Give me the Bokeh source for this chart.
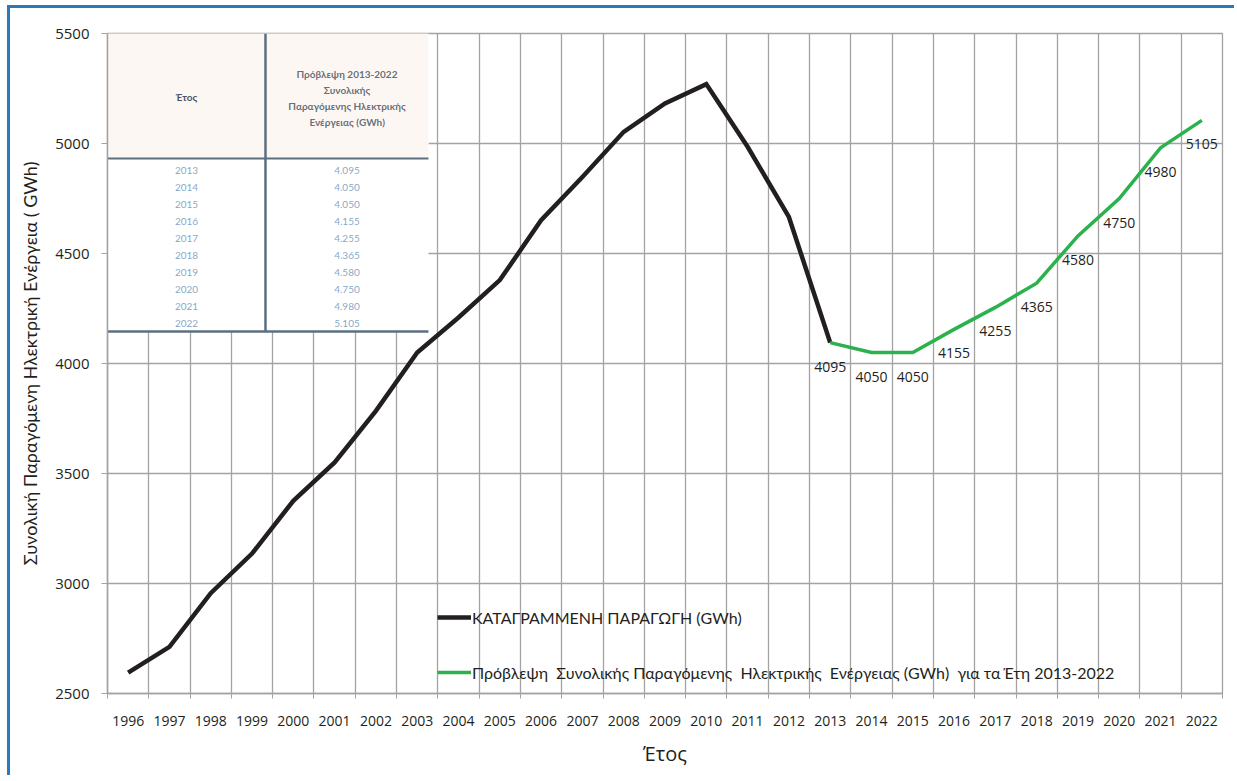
from bokeh.plotting import figure
from bokeh.models import FixedTicker, Legend, LegendItem, ColumnDataSource
from bokeh.core.properties import value
from bokeh.embed import file_html
from bokeh.resources import INLINE

# ---- data ----
years_all = list(range(1996, 2023))
recorded_years = list(range(1996, 2014))
recorded_gwh = [2595, 2712, 2956, 3136, 3376, 3550, 3785, 4050, 4209, 4379,
                4651, 4848, 5053, 5182, 5270, 4985, 4666, 4095]
forecast_years = list(range(2013, 2023))
forecast_gwh = [4095, 4050, 4050, 4155, 4255, 4365, 4580, 4750, 4980, 5105]
y_ticks = [2500, 3000, 3500, 4000, 4500, 5000, 5500]

legend_recorded = "ΚΑΤΑΓΡΑΜΜΕΝΗ ΠΑΡΑΓΩΓΗ (GWh)"
legend_forecast = "Πρόβλεψη  Συνολικής Παραγόμενης  Ηλεκτρικής  Ενέργειας (GWh)  για τα Έτη 2013-2022"
y_title = "Συνολική Παραγόμενη Ηλεκτρική Ενέργεια ( GWh)"
x_title = "Έτος"

TXT = "#231f20"
GRID = "#a3a3a3"
FONT = "Open Sans"
NARROW = "Lato"

p = figure(width=1227, height=770, output_backend="svg", toolbar_location=None,
           x_range=(years_all[0] - 0.5, years_all[-1] + 0.5),
           y_range=(y_ticks[0], y_ticks[-1]),
           min_border_left=97, min_border_right=15, min_border_top=25, min_border_bottom=85)
p.styles = {"border-left": "3px solid #2a79bd", "border-top": "3px solid #2a79bd",
            "margin-left": "7px", "margin-top": "5px"}
p.outline_line_color = GRID
p.outline_line_width = 1.3

# axes
p.xaxis.ticker = FixedTicker(ticks=years_all, minor_ticks=[y - 0.5 for y in years_all] + [years_all[-1] + 0.5])
p.xaxis.major_label_overrides = {y: str(y) for y in years_all}
p.xaxis.major_tick_out = 0
p.xaxis.major_tick_in = 0
p.xaxis.minor_tick_out = 5
p.xaxis.minor_tick_in = 0
p.xaxis.minor_tick_line_color = GRID
p.xaxis.axis_line_color = GRID
p.xaxis.axis_line_width = 1.5
p.xaxis.major_label_text_font = FONT
p.xaxis.major_label_text_font_size = "14px"
p.xaxis.major_label_text_color = TXT
p.xaxis.major_label_standoff = 17
p.xaxis.axis_label = x_title
p.xaxis.axis_label_text_font = FONT
p.xaxis.axis_label_text_font_size = "20px"
p.xaxis.axis_label_text_font_style = "normal"
p.xaxis.axis_label_text_color = TXT
p.xaxis.axis_label_standoff = 11

p.yaxis.ticker = FixedTicker(ticks=y_ticks)
p.yaxis.major_tick_out = 6
p.yaxis.major_tick_in = 0
p.yaxis.major_tick_line_color = GRID
p.yaxis.minor_tick_line_color = None
p.yaxis.axis_line_color = GRID
p.yaxis.axis_line_width = 1.5
p.yaxis.major_label_text_font = FONT
p.yaxis.major_label_text_font_size = "15px"
p.yaxis.major_label_text_color = TXT
p.yaxis.major_label_standoff = 12
p.yaxis.axis_label = y_title
p.yaxis.axis_label_text_font = NARROW
p.yaxis.axis_label_text_font_size = "18px"
p.yaxis.axis_label_text_font_style = "normal"
p.yaxis.axis_label_text_color = TXT
p.yaxis.axis_label_standoff = 11

# grids at category boundaries
p.xgrid.ticker = FixedTicker(ticks=[y - 0.5 for y in years_all] + [years_all[-1] + 0.5])
p.ygrid.ticker = FixedTicker(ticks=y_ticks)
for g in (p.xgrid, p.ygrid):
    g.grid_line_color = GRID
    g.grid_line_width = 1.3

# inset table (image of a table in the original) drawn from the forecast data
left_x = years_all[0] - 0.5
right_x = left_x + 321 / 41.3
mid_x = left_x + 158 / 41.3
px = 3000 / 660.0  # data units per pixel in y
top_y = y_ticks[-1]
head_bot = top_y - 125 * px
bot_y = top_y - 298 * px
p.quad(left=left_x, right=right_x, top=top_y, bottom=bot_y, fill_color="white", line_color=None)
p.quad(left=left_x, right=right_x, top=top_y, bottom=head_bot, fill_color="#fdf7f4", line_color=None)
p.segment(x0=[mid_x, left_x, left_x], y0=[top_y, head_bot, bot_y],
          x1=[mid_x, right_x, right_x], y1=[bot_y, head_bot, bot_y],
          line_color="#5b6f7f", line_width=[2.5, 2, 2.5])
lcx = (left_x + mid_x) / 2
rcx = (mid_x + right_x) / 2
p.text(x=[lcx], y=[top_y - 63 * px], text=["Έτος"], text_font=value(NARROW), text_font_size="10px",
       text_font_style="bold", text_color="#4a5562", text_align="center", text_baseline="middle")
hdr = ["Πρόβλεψη 2013-2022", "Συνολικής", "Παραγόμενης Ηλεκτρικής", "Ενέργειας (GWh)"]
p.text(x=[rcx] * 4, y=[top_y - (40 + 16 * i) * px for i in range(4)], text=hdr,
       text_font=value(NARROW), text_font_size="10px", text_font_style="bold",
       text_color="#3e4a57", text_align="center", text_baseline="middle", text_alpha=0.8)
row_y = [top_y - (137 + 17 * i) * px for i in range(len(forecast_years))]
p.text(x=[lcx] * len(forecast_years), y=row_y, text=[str(y) for y in forecast_years],
       text_font=value(NARROW), text_font_size="10px", text_color="#5d87b3",
       text_align="center", text_baseline="middle", text_alpha=0.75)
p.text(x=[rcx] * len(forecast_years), y=row_y,
       text=["{:,}".format(v).replace(",", ".") for v in forecast_gwh],
       text_font=value(NARROW), text_font_size="10px", text_color="#5d87b3",
       text_align="center", text_baseline="middle", text_alpha=0.75)

# lines
r1 = p.line(recorded_years, recorded_gwh, line_color="#231f20", line_width=4.5, line_join="miter")
r2 = p.line(forecast_years, forecast_gwh, line_color="#2bb24c", line_width=3.5, line_join="miter")

src = ColumnDataSource(dict(x=forecast_years, y=forecast_gwh, t=[str(v) for v in forecast_gwh]))
p.text(x="x", y="y", text="t", source=src, text_font=value(FONT), text_font_size="14px",
       text_color=TXT, text_align="center", text_baseline="top", y_offset=19)

legend = Legend(items=[LegendItem(label=legend_recorded, renderers=[r1]),
                       LegendItem(label=legend_forecast, renderers=[r2])],
                location=(330, 11), padding=0, margin=0, spacing=35,
                glyph_width=34, glyph_height=20, label_height=20, label_standoff=1,
                label_text_font=NARROW, label_text_font_size="16px", label_text_color=TXT,
                background_fill_alpha=0, border_line_alpha=0)
p.add_layout(legend, "center")

open("out.html", "w").write(file_html(p, INLINE))
